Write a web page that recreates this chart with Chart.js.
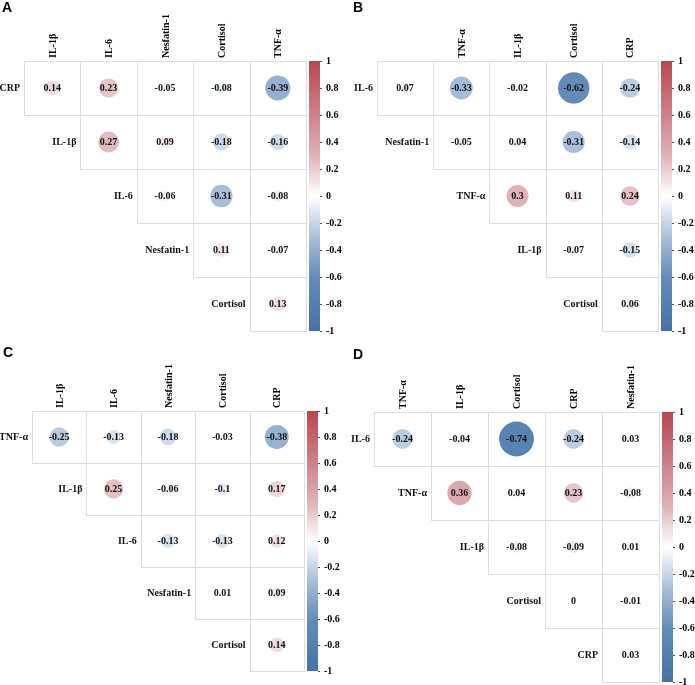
<!DOCTYPE html>
<html>
<head>
<meta charset="utf-8">
<script src="https://cdn.jsdelivr.net/npm/chart.js@4.4.0/dist/chart.umd.min.js"></script>
<style>
  html, body { margin: 0; padding: 0; background: #fff; }
  #wrap { position: relative; width: 695px; height: 685px; overflow: hidden; }
  #wrap canvas { position: absolute; }
  .tag { position: absolute; font: bold 14px "Liberation Sans", Arial, sans-serif; line-height: 14px; color: #000; }
</style>
</head>
<body>
<div id="wrap">
  <canvas id="cA" width="347" height="371" style="left:0;top:0"></canvas>
  <canvas id="cB" width="348" height="371" style="left:347px;top:0"></canvas>
  <canvas id="cC" width="347" height="369" style="left:0;top:342px"></canvas>
  <canvas id="cD" width="348" height="380" style="left:347px;top:342px"></canvas>
  <div class="tag" style="left:2px;top:0">A</div>
  <div class="tag" style="left:353px;top:0">B</div>
  <div class="tag" style="left:3px;top:345px">C</div>
  <div class="tag" style="left:353px;top:347px">D</div>
</div>
<script>
// panel A
const colsA = ["IL-1β", "IL-6", "Nesfatin-1", "Cortisol", "TNF-α"];
const rowsA = ["CRP", "IL-1β", "IL-6", "Nesfatin-1", "Cortisol"];
const valsA = [
  [0.14, 0.23, -0.05, -0.08, -0.39],
  [0.27, 0.09, -0.18, -0.16],
  [-0.06, -0.31, -0.08],
  [0.11, -0.07],
  [0.13]
];

// panel B (first column has no label in the figure)
const colsB = ["", "TNF-α", "IL-1β", "Cortisol", "CRP"];
const rowsB = ["IL-6", "Nesfatin-1", "TNF-α", "IL-1β", "Cortisol"];
const valsB = [
  [0.07, -0.33, -0.02, -0.62, -0.24],
  [-0.05, 0.04, -0.31, -0.14],
  [0.3, 0.11, 0.24],
  [-0.07, -0.15],
  [0.06]
];

// panel C
const colsC = ["IL-1β", "IL-6", "Nesfatin-1", "Cortisol", "CRP"];
const rowsC = ["TNF-α", "IL-1β", "IL-6", "Nesfatin-1", "Cortisol"];
const valsC = [
  [-0.25, -0.13, -0.18, -0.03, -0.38],
  [0.25, -0.06, -0.1, 0.17],
  [-0.13, -0.13, 0.12],
  [0.01, 0.09],
  [0.14]
];

// panel D
const colsD = ["TNF-α", "IL-1β", "Cortisol", "CRP", "Nesfatin-1"];
const rowsD = ["IL-6", "TNF-α", "IL-1β", "Cortisol", "CRP"];
const valsD = [
  [-0.24, -0.04, -0.74, -0.24, 0.03],
  [0.36, 0.04, 0.23, -0.08],
  [-0.08, -0.09, 0.01],
  [0, -0.01],
  [0.03]
];

const cbTicks = [1, 0.8, 0.6, 0.4, 0.2, 0, -0.2, -0.4, -0.6, -0.8, -1];

const posStops = [[0, [255, 255, 255]], [0.3, [222, 178, 183]], [0.6, [205, 130, 138]], [1, [185, 70, 80]]];
const negStops = [[0, [255, 255, 255]], [0.3, [170, 192, 218]], [0.6, [100, 140, 185]], [1, [68, 115, 165]]];

const corrColor = (v) => {
  const stops = v >= 0 ? posStops : negStops;
  const a = Math.min(1, Math.abs(v));
  for (let i = 1; i < stops.length; i++) {
    if (a <= stops[i][0]) {
      const t = (a - stops[i - 1][0]) / (stops[i][0] - stops[i - 1][0]);
      const c = stops[i - 1][1].map((x, k) => Math.round(x + (stops[i][1][k] - x) * t));
      return `rgb(${c[0]},${c[1]},${c[2]})`;
    }
  }
  return "#fff";
};

const FONT = { family: "'Liberation Serif', 'Times New Roman', serif", weight: "bold", size: 10 };
const FONT_CSS = "bold 10px 'Liberation Serif', 'Times New Roman', serif";
const BAR_GAP = 3;
const BAR_W = 11;

const corrPlugin = (p) => ({
  id: "corr" + p.id,
  beforeDatasetsDraw(chart) {
    const { ctx, scales: { x, y } } = chart;
    const hw = x.width / p.cols.length / 2;
    const hh = y.height / p.rows.length / 2;
    ctx.save();
    ctx.strokeStyle = "#dedede";
    ctx.lineWidth = 1;
    p.vals.forEach((row, i) => row.forEach((v, k) => {
      const cx = x.getPixelForValue(i + k);
      const cy = y.getPixelForValue(i);
      const l = Math.round(cx - hw) + 0.5, t = Math.round(cy - hh) + 0.5;
      const r = Math.round(cx + hw) + 0.5, b = Math.round(cy + hh) + 0.5;
      ctx.strokeRect(l, t, r - l, b - t);
    }));
    ctx.restore();
  },
  afterDatasetsDraw(chart) {
    const { ctx, chartArea, scales: { x, y } } = chart;
    const hw = x.width / p.cols.length / 2;
    ctx.save();
    ctx.font = FONT_CSS;
    ctx.fillStyle = "#111";
    ctx.textBaseline = "middle";
    p.vals.forEach((row, i) => {
      const cy = y.getPixelForValue(i);
      ctx.textAlign = "center";
      row.forEach((v, k) => ctx.fillText(String(v), x.getPixelForValue(i + k), cy));
      ctx.textAlign = "right";
      ctx.fillText(p.rows[i], x.getPixelForValue(i) - hw - 4, cy);
    });
    // column labels, rotated, reading upward from the top of the grid
    ctx.fillStyle = "#000";
    ctx.textAlign = "left";
    p.cols.forEach((name, k) => {
      ctx.save();
      ctx.translate(x.getPixelForValue(k) + 1, chartArea.top - 3);
      ctx.rotate(-Math.PI / 2);
      ctx.fillText(name, 0, 0);
      ctx.restore();
    });
    ctx.restore();
  },
  afterDraw(chart) {
    const { ctx } = chart;
    const cb = chart.scales.cb;
    const top = cb.getPixelForValue(1);
    const bottom = cb.getPixelForValue(-1);
    const bx = cb.left + BAR_GAP;
    const grad = ctx.createLinearGradient(0, top, 0, bottom);
    for (let i = 0; i <= 40; i++) grad.addColorStop(i / 40, corrColor(1 - i / 20));
    ctx.save();
    ctx.fillStyle = grad;
    ctx.fillRect(bx, top, BAR_W, bottom - top);
    ctx.strokeStyle = "#555";
    ctx.lineWidth = 1;
    cbTicks.forEach((v) => {
      const ty = Math.round(cb.getPixelForValue(v)) + 0.5;
      ctx.beginPath();
      ctx.moveTo(bx + BAR_W, ty);
      ctx.lineTo(bx + BAR_W + 2, ty);
      ctx.stroke();
    });
    ctx.restore();
  }
});

const makePanel = (p) => {
  const canvas = document.getElementById(p.id);
  const W = canvas.width, H = canvas.height;
  const [gl, gr, gt, gb] = p.box;
  const points = [];
  p.vals.forEach((row, i) => row.forEach((v, k) => points.push({ x: p.cols[i + k], y: p.rows[i], v })));

  return new Chart(canvas, {
    type: "bubble",
    data: {
      datasets: [{
        data: points,
        borderWidth: 0,
        backgroundColor: (c) => corrColor(c.raw ? c.raw.v : 0),
        radius: (c) => {
          if (!c.raw) return 0;
          const area = c.chart.chartArea;
          const w = area ? area.width : gr - gl;
          return 0.355 * (w / p.cols.length) * Math.sqrt(Math.abs(c.raw.v));
        }
      }]
    },
    options: {
      responsive: false,
      animation: false,
      events: [],
      // canvas runs past the grid bottom so bubble overflow padding cannot shift it
      layout: { padding: { left: gl, right: 0, top: gt, bottom: H - gb } },
      plugins: { legend: { display: false }, tooltip: { enabled: false } },
      scales: {
        x: { type: "category", labels: p.cols, offset: true, display: false },
        y: { type: "category", labels: p.rows, offset: true, display: false },
        cb: {
          type: "linear",
          axis: "y",
          position: "right",
          min: -1,
          max: 1,
          grid: { display: false, drawTicks: false },
          border: { display: false },
          afterBuildTicks: (s) => { s.ticks = cbTicks.map((v) => ({ value: v })); },
          ticks: {
            padding: BAR_GAP + BAR_W + 6,
            font: FONT,
            color: "#000",
            callback: (v) => String(Math.round(v * 10) / 10)
          },
          afterFit: (s) => { s.width = W - gr; }
        }
      }
    },
    plugins: [corrPlugin(p)]
  });
};

[
  { id: "cA", cols: colsA, rows: rowsA, vals: valsA, box: [24, 306, 61, 331] },
  { id: "cB", cols: colsB, rows: rowsB, vals: valsB, box: [30, 311, 61, 331] },
  { id: "cC", cols: colsC, rows: rowsC, vals: valsC, box: [32, 304, 69, 329] },
  { id: "cD", cols: colsD, rows: rowsD, vals: valsD, box: [27, 312, 70, 340] }
].forEach(makePanel);
</script>
</body>
</html>
